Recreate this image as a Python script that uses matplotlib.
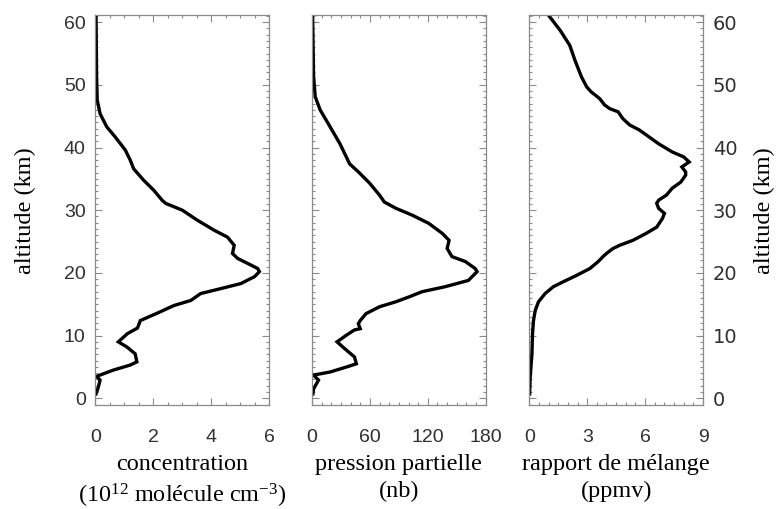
import matplotlib
matplotlib.use("Agg")
import matplotlib.pyplot as plt
from matplotlib.ticker import MultipleLocator

plt.rcParams['mathtext.fontset'] = 'custom'
plt.rcParams['mathtext.rm'] = 'Liberation Serif'
plt.rcParams['mathtext.it'] = 'Liberation Serif:italic'

# profil d'ozone : altitude (km) et valeurs
alt_conc = [61.0, 51.3, 47.6, 45.4, 43.3, 41.7, 39.6, 38.0, 36.6, 34.8, 33.2, 31.6, 31.1,
            30.0, 28.4, 26.8, 25.7, 24.4, 23.1, 22.3, 21.5, 20.7, 20.2, 19.4, 18.3, 17.5,
            16.7, 15.6, 14.8, 13.8, 12.7, 12.4, 11.2, 10.3, 9.0, 8.2, 7.1, 5.8, 5.3, 4.5,
            3.5, 2.9, 1.8, 0.7]
conc = [0.02, 0.04, 0.06, 0.16, 0.39, 0.68, 1.03, 1.20, 1.32, 1.66, 2.01, 2.30, 2.42,
        3.00, 3.52, 4.10, 4.56, 4.79, 4.73, 4.91, 5.26, 5.60, 5.66, 5.49, 5.02, 4.33,
        3.63, 3.29, 2.71, 2.24, 1.70, 1.55, 1.45, 1.10, 0.79, 1.08, 1.37, 1.43, 1.20, 0.62,
        0.04, 0.16, 0.10, 0.02]

alt_pres = [61.0, 51.3, 48.1, 46.0, 43.3, 40.6, 37.4, 35.9, 34.3, 32.4, 31.3, 30.3, 29.2,
            27.9, 26.3, 25.2, 23.9, 22.6, 21.8, 20.7, 20.2, 18.8, 17.8, 17.0, 16.2, 15.4,
            14.6, 13.5, 12.4, 11.9, 11.1, 10.9, 10.1, 9.0, 7.9, 6.6, 5.5, 5.0, 4.2, 3.7,
            2.9, 1.5, 0.7]
pres = [0.7, 1.7, 3.4, 8.5, 18.8, 29, 39, 49.5, 59.8, 70, 75, 87, 104,
        121, 135, 142, 140, 145, 159, 169, 171, 162, 138, 114, 101, 87,
        70, 56, 50, 48, 50, 44, 36, 26, 34, 44, 46, 36, 19, 1.7,
        6.8, 1.7, 1.0]

alt_mix = [61.1, 58.7, 56.3, 53.9, 51.3, 49.7, 48.9, 47.8, 46.8, 46.2, 45.7, 44.6, 43.6,
           42.8, 41.7, 40.6, 39.3, 38.5, 37.7, 36.9, 36.1, 35.6, 34.5, 33.5, 32.4, 31.6,
           31.1, 30.3, 29.5, 28.7, 27.3, 26.3, 25.2, 24.4, 23.9, 23.1, 22.6, 21.8, 20.7,
           19.6, 18.6, 17.8, 16.7, 15.4, 14.0, 12.4, 10.3, 7.1, 3.4, 0.7]
mix = [1.0, 1.6, 2.1, 2.37, 2.7, 2.97, 3.2, 3.65, 3.9, 4.17, 4.6, 4.85, 5.2,
       5.7, 6.2, 6.7, 7.4, 8.0, 8.28, 7.9, 8.1, 8.1, 7.85, 7.4, 7.1, 6.7,
       6.6, 6.7, 7.0, 6.9, 6.6, 6.05, 5.37, 4.68, 4.34, 4.0, 3.82, 3.57, 3.14,
       2.45, 1.77, 1.25, 0.82, 0.48, 0.31, 0.22, 0.17, 0.14, 0.05, 0.02]

xmax = [6, 180, 9]
xmajor = [2, 60, 3]
xminor = [0.5, 10, 0.5]
xlabels = ['concentration\n(10$^{12}$ molécule cm$^{-3}$)',
           'pression partielle\n(nb)',
           'rapport de mélange\n(ppmv)']
yticks = [0, 10, 20, 30, 40, 50, 60]

serif = 'Liberation Serif'
sans = 'Liberation Sans'
frame = '#8a8a8a'
fs = 17.5

fig = plt.figure(figsize=(7.76, 5.09), dpi=100)
lefts = [0.123, 0.402, 0.682]
axes = [fig.add_axes([l, 0.204, 0.224, 0.766]) for l in lefts]

data = [(conc, alt_conc), (pres, alt_pres), (mix, alt_mix)]
for i, ax in enumerate(axes):
    x, y = data[i]
    ax.plot(x, y, color='black', lw=2.4, solid_joinstyle='miter')
    ax.set_xlim(0, xmax[i])
    ax.set_ylim(-1.1, 61.1)
    ax.xaxis.set_major_locator(MultipleLocator(xmajor[i]))
    ax.xaxis.set_minor_locator(MultipleLocator(xminor[i]))
    ax.set_yticks(yticks)
    ax.yaxis.set_minor_locator(MultipleLocator(1))
    ax.tick_params(which='both', direction='in', top=True, right=True,
                   color=frame, width=0.8, labelsize=14, labelcolor='#303030')
    ax.tick_params(which='major', length=5)
    ax.tick_params(which='minor', length=2.5)
    ax.tick_params(axis='x', pad=17)
    ax.tick_params(axis='y', pad=7)
    for s in ax.spines.values():
        s.set_color(frame)
        s.set_linewidth(0.9)
    for lab in ax.get_xticklabels() + ax.get_yticklabels():
        lab.set_family(sans)
    ax.set_xlabel(xlabels[i], fontsize=fs, family=serif, linespacing=1.35, labelpad=6)

axes[0].set_ylabel('altitude (km)', fontsize=fs, family=serif, labelpad=20)
axes[1].tick_params(axis='y', labelleft=False)
axes[2].tick_params(axis='y', labelleft=False, labelright=True)
axes[2].yaxis.set_label_position('right')
axes[2].set_ylabel('altitude (km)', fontsize=fs, family=serif, labelpad=12, rotation=90)

fig.savefig('out.png', dpi=100)
